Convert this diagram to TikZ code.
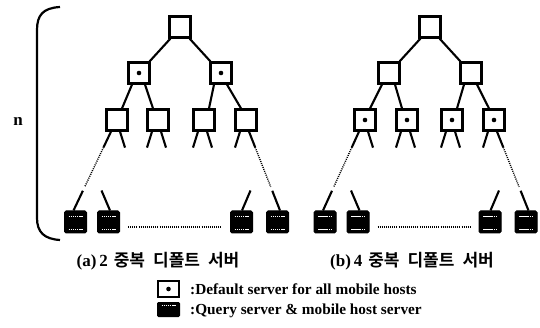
\documentclass[tikz,border=0pt]{standalone}
\usepackage{fontspec}
\setmainfont{Liberation Serif}
\newfontfamily\kr{Noto Sans CJK KR}[BoldFont={Noto Sans CJK KR Bold}]
\usetikzlibrary{calc}
\begin{document}
\begin{tikzpicture}[x=1pt,y=-1pt,
  srv/.style={draw,line width=2.7pt,minimum width=20.5pt,minimum height=20.5pt,inner sep=0pt},
  dft/.style={srv,path picture={\fill (path picture bounding box.center) circle (2.3pt);}},
  leaf/.style={draw,fill=black,line width=1pt,minimum width=22pt,minimum height=22pt,inner sep=0pt,rounded corners=1.5pt},
  br/.style={line width=2.1pt},
  dots/.style={line width=1.4pt,dash pattern=on 1pt off 1.1pt},
  wl/.style={white,line width=0.9pt,dash pattern=on 1.5pt off 0.6pt},
  captext/.style={font=\bfseries\fontsize{17}{19}\selectfont,inner sep=0pt},
  legtext/.style={font=\bfseries\fontsize{15.3}{17}\selectfont,inner sep=0pt,anchor=west}]
\useasboundingbox (0,0) rectangle (540,328);

% ---------- tree (a)
\node[srv] (ar) at (180,27) {};
\node[dft] (a1) at (139,73) {};
\node[dft] (a2) at (221,73) {};
\node[srv] (a11) at (117,120) {};
\node[srv] (a12) at (158,120) {};
\node[srv] (a21) at (204,120) {};
\node[srv] (a22) at (246,120) {};
\node[leaf] (al1) at (75.5,222) {};
\node[leaf] (al2) at (108.5,222) {};
\node[leaf] (al3) at (241.5,222) {};
\node[leaf] (al4) at (277.5,222) {};

% ---------- tree (b)
\node[srv] (br) at (430,27) {};
\node[srv] (b1) at (389,73) {};
\node[srv] (b2) at (471,73) {};
\node[dft] (b11) at (365,120) {};
\node[dft] (b12) at (407,120) {};
\node[dft] (b21) at (452,120) {};
\node[dft] (b22) at (494,120) {};
\node[leaf] (bl1) at (325,222) {};
\node[leaf] (bl2) at (358,222) {};
\node[leaf] (bl3) at (490,222) {};
\node[leaf] (bl4) at (526,222) {};

\foreach \t in {a,b}{
  \draw[br] ([shift={(2,0)}]\t r.south west) -- ([shift={(-1,0)}]\t1.north east);
  \draw[br] ([shift={(-2,0)}]\t r.south east) -- ([shift={(1,0)}]\t2.north west);
  \foreach \p in {1,2}{
    \draw[br] ([shift={(-7,0)}]\t\p.south) -- ([shift={(5,0)}]\t\p1.north);
    \draw[br] ([shift={(6,0)}]\t\p.south) -- ([shift={(-5,0)}]\t\p2.north);
  }
  % stubs
  \draw[br] ([shift={(3,0)}]\t11.south) -- ++(5,16);
  \foreach \n in {12,21}{
    \draw[br] ([shift={(-6,0)}]\t\n.south) -- ++(-5,16);
    \draw[br] ([shift={(3,0)}]\t\n.south) -- ++(5,16);
  }
  \draw[br] ([shift={(-6,0)}]\t22.south) -- ++(-5,16);
  % long outer lines
  \coordinate (\t p) at ([shift={(-6,0)}]\t11.south);
  \coordinate (\t q) at ([shift={(-2,0)}]\t l1.north);
  \draw[br] (\t p) -- ($(\t p)!0.2!(\t q)$);
  \draw[dots] ($(\t p)!0.2!(\t q)$) -- ($(\t p)!0.7!(\t q)$);
  \draw[br] ($(\t p)!0.75!(\t q)$) -- (\t q);
  \coordinate (\t s) at ([shift={(3,0)}]\t22.south);
  \coordinate (\t u) at ([shift={(2.5,0)}]\t l4.north);
  \draw[br] (\t s) -- ($(\t s)!0.2!(\t u)$);
  \draw[dots] ($(\t s)!0.2!(\t u)$) -- ($(\t s)!0.7!(\t u)$);
  \draw[br] ($(\t s)!0.75!(\t u)$) -- (\t u);
  % leaf stubs
  \draw[br] ([shift={(1.5,0)}]\t l2.north) -- ++(-8.5,-20);
  \draw[br] ([shift={(0.5,0)}]\t l3.north) -- ++(8.5,-20);
  % horizontal dots
  \draw[dots] ([shift={(8,5)}]\t l2.east) -- ([shift={(-8,5)}]\t l3.west);
  % white marks in leaves
  \foreach \k in {1,2,3,4}{
    \draw[wl] ([shift={(-7,-6)}]\t l\k.center) -- ++(14,0);
    \draw[wl] ([shift={(-7,7)}]\t l\k.center) -- ++(14,0);
  }
}

% bracket and n
\coordinate (bt) at (60,7);
\coordinate (bb) at (60,240);
\draw[line width=2.2pt] (bt) .. controls (43,8) and (37,15) .. (37,30) -- (37,218) .. controls (37,232) and (44,239) .. (bb);
\node[font=\bfseries\fontsize{17}{19}\selectfont,inner sep=0pt] (nlab) at (18,121) {n};

% captions
\node[captext] (capa) at (158,261) {(a)\,2\hspace{6pt}{\kr\bfseries 중복\hspace{8pt}디폴트\hspace{8pt}서버}};
\node[captext] (capb) at (412,261) {(b)\,4\hspace{6pt}{\kr\bfseries 중복\hspace{8pt}디폴트\hspace{8pt}서버}};

% legend
\node[draw,line width=2.4pt,minimum width=20.5pt,minimum height=15.5pt,inner sep=0pt,
  path picture={\fill (path picture bounding box.center) circle (2.3pt);}] (lg1) at (168.5,289) {};
\node[draw,fill=black,line width=1pt,minimum width=22pt,minimum height=14pt,inner sep=0pt,rounded corners=1pt] (lg2) at (168.5,309.5) {};
\draw[wl] ([shift={(-7,-4)}]lg2.center) -- ++(14,0);
\node[legtext] (t1) at (190,289) {:Default server for all mobile hosts};
\node[legtext] (t2) at (190,310.5) {:Query server \& mobile host server};
\end{tikzpicture}
\end{document}
